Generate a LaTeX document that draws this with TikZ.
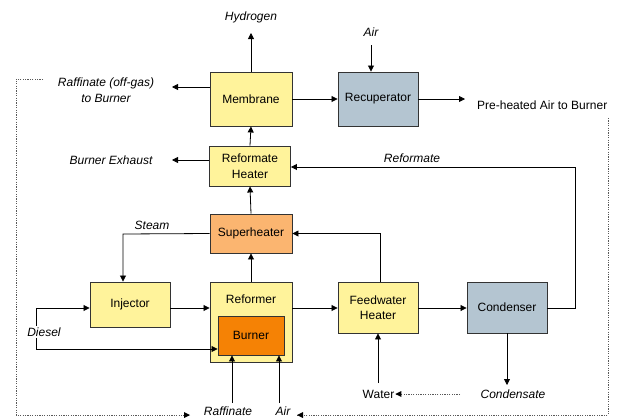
\documentclass[tikz,border=0pt]{standalone}
\usepackage{fontspec}
\setmainfont{Liberation Sans}
\usetikzlibrary{arrows.meta}
\definecolor{boxyellow}{RGB}{255,243,155}
\definecolor{boxpeach}{RGB}{251,181,112}
\definecolor{boxorange}{RGB}{245,130,5}
\definecolor{boxblue}{RGB}{180,197,209}
\begin{document}
\begin{tikzpicture}[x=1pt,y=-1pt,
  font=\fontsize{12}{15.5}\selectfont,
  box/.style={draw=black!80, line width=0.9pt, inner sep=0pt, align=center},
  lab/.style={font=\fontsize{12}{15.5}\selectfont\itshape, inner sep=1pt, align=center},
  plain/.style={font=\fontsize{12}{15.5}\selectfont, inner sep=1pt},
  arr/.style={line width=0.8pt, -{Triangle[length=6pt,width=6pt]}},
  ln/.style={line width=0.8pt},
  dots/.style={draw=black!65, line width=0.8pt, dash pattern=on 1.2pt off 1.2pt}]
\useasboundingbox (0,0) rectangle (630,418);

% boxes
\node[box, fill=boxyellow, minimum width=82pt, minimum height=54pt] (mem) at (251,99) {Membrane};
\node[box, fill=boxblue, minimum width=80pt, minimum height=54pt] (rec) at (378,99) {Recuperator};
\node[box, fill=boxyellow, minimum width=81pt, minimum height=40pt] (rh) at (250,166) {Reformate\\Heater};
\node[box, fill=boxpeach, minimum width=82pt, minimum height=39pt] (sh) at (251,233.5) {Superheater};
\node[box, fill=boxyellow, minimum width=80pt, minimum height=45pt] (inj) at (130,304.5) {Injector};
\node[box, fill=boxyellow, minimum width=82pt, minimum height=80pt] (ref) at (251,322) {};
\node[plain] (reflab) at (251,299) {Reformer};
\node[box, fill=boxorange, minimum width=66pt, minimum height=39pt] (bur) at (251,335.5) {Burner};
\node[box, fill=boxyellow, minimum width=80pt, minimum height=51pt] (fh) at (378,307.5) {Feedwater\\Heater};
\node[box, fill=boxblue, minimum width=80pt, minimum height=51pt] (con) at (507,307.5) {Condenser};

% labels
\node[lab] (hyd) at (251,17) {Hydrogen};
\node[lab] (raf) at (106,90) {Raffinate (off-gas)\\to Burner};
\node[lab] (exh) at (111,160) {Burner Exhaust};
\node[lab] (airtop) at (371,32) {Air};
\node[plain, anchor=west] (pre) at (476,105.5) {Pre-heated Air to Burner};
\node[lab] (refm) at (412,158) {Reformate};
\node[lab] (steam) at (152,225) {Steam};
\node[lab] (cond) at (513,394) {Condensate};
\node[plain] (water) at (378.5,394) {Water};
\node[lab] (rafb) at (228,411) {Raffinate};
\node[lab] (airb) at (283,411) {Air};

% coordinates
\coordinate (hydc) at (251,33);
\coordinate (rafc) at (172,87);
\coordinate (exhc) at (172,160);
\coordinate (airc) at (371,45);
\coordinate (prec) at (465,99);
\coordinate (refc) at (575,167);
\coordinate (stc) at (123,234);
\coordinate (d1) at (36,308);
\coordinate (d2) at (36,349);
\coordinate (condc) at (507,385);
\coordinate (watc) at (378,383);
\coordinate (rb) at (232,403);
\coordinate (ab) at (279,403);
\coordinate (L1) at (43,79);
\coordinate (L2) at (16,79);
\coordinate (L3) at (16,415);
\coordinate (L4) at (190,415);
\coordinate (R1) at (608,118);
\coordinate (R2) at (608,415);
\coordinate (R3) at (297,415);
\coordinate (wd) at (460,394);

% connectors
\draw[arr] (mem.north) -- (hydc);
\draw[arr] (mem.west |- rafc) -- (rafc);
\draw[arr] (mem.east) -- (rec.west);
\draw[arr] (airc) -- (airc |- rec.north);
\draw[arr] (rec.east) -- (prec);
\draw[arr] (rh.north) -- (mem.south);
\draw[arr] (rh.west |- exhc) -- (exhc);
\draw[arr] (sh.north) -- (rh.south);
\draw[arr] (ref.north) -- (sh.south);
\draw[arr] (sh.west) -- (stc) -- (stc |- inj.north);
\draw[arr] (inj.east |- d1) -- (ref.west |- d1);
\draw[arr] (d1) -- (d1 -| inj.west);
\draw[ln] (d1) -- (d2);
\draw[arr] (d2) -- (d2 -| bur.west);
\node[lab, fill=white, inner sep=1.5pt] (diesel) at (44,332) {Diesel};
\draw[arr] (ref.east |- d1) -- (fh.west |- d1);
\draw[arr] ([xshift=2pt]fh.north) |- (sh.east);
\draw[arr] (fh.east |- d1) -- (con.west |- d1);
\draw[arr] (con.east |- d1) -| (refc) -- (refc -| rh.east);
\draw[arr] (con.south) -- (condc);
\draw[arr] (watc) -- (fh.south);
\draw[arr] (rb) -- (rb |- bur.south);
\draw[arr] (ab) -- (ab |- bur.south);

% dotted returns
\draw[dots] (L1) -- (L2) -- (L3) -- (L4);
\fill ([xshift=-6pt,yshift=-3pt]L4) -- (L4) -- ([xshift=-6pt,yshift=3pt]L4) -- cycle;
\draw[dots] (R1) -- (R2) -- (R3);
\fill ([xshift=6pt,yshift=-3pt]R3) -- (R3) -- ([xshift=6pt,yshift=3pt]R3) -- cycle;
\draw[dots] (wd) -- (water.east);
\fill ([xshift=6pt,yshift=-3pt]water.east) -- (water.east) -- ([xshift=6pt,yshift=3pt]water.east) -- cycle;
\end{tikzpicture}
\end{document}
